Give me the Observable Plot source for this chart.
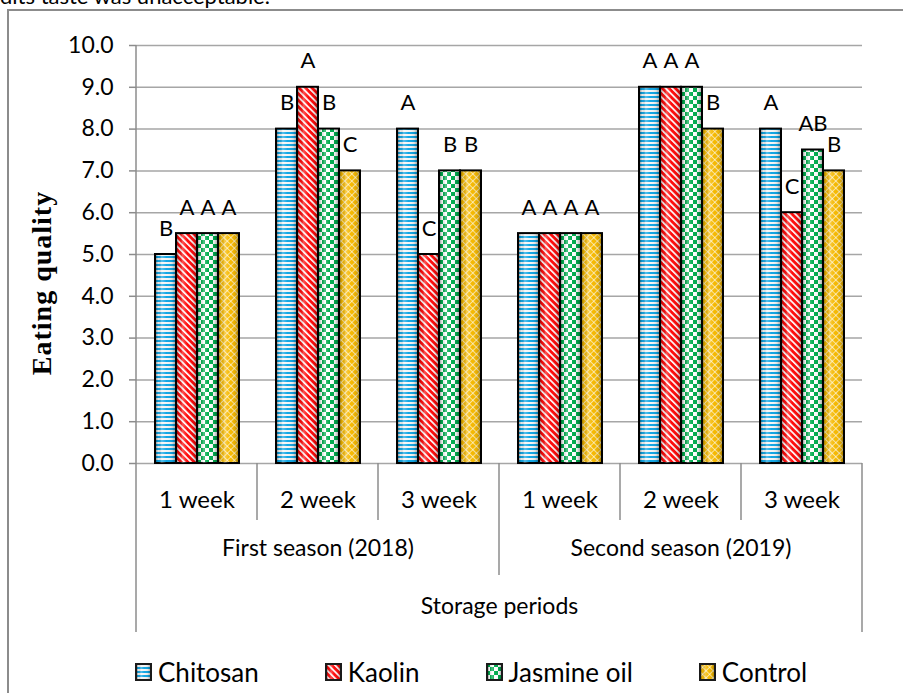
<!DOCTYPE html>
<html>
<head>
<meta charset="utf-8">
<script src="https://cdn.jsdelivr.net/npm/d3@7"></script>
<script src="https://cdn.jsdelivr.net/npm/@observablehq/plot@0.6"></script>
<style>
  html, body { margin: 0; padding: 0; background: #fff; }
  body { width: 903px; height: 693px; overflow: hidden; position: relative; font-family: Lato, sans-serif; color: #000; }
  #cut { position: absolute; left: 0; top: -15px; font-size: 22px; line-height: 22px; white-space: nowrap; }
  #chart { position: absolute; left: 0; top: 0; }
  #frame { position: absolute; left: 7px; top: 9px; width: 920px; height: 720px; border-left: 2px solid #8c8c8c; border-top: 2px solid #8c8c8c; pointer-events: none; }
  #ytitle { position: absolute; left: 42px; top: 283px; transform: translate(-50%, -50%) rotate(-90deg); font-family: "Liberation Serif", serif; font-weight: bold; font-size: 28px; letter-spacing: 1px; white-space: nowrap; }
  #legend { position: absolute; left: 135px; top: 657px; display: flex; align-items: center; gap: 66px; font-size: 26px; line-height: 30px; }
  .item { display: flex; align-items: center; gap: 6px; }
  .item svg { display: block; }
</style>
</head>
<body>
<svg width="0" height="0" style="position:absolute">
  <defs>
    <pattern id="p-chi" width="4" height="4" patternUnits="userSpaceOnUse">
      <rect width="4" height="4" fill="#f4f4f4"/>
      <rect width="4" height="2" fill="#12a6e4"/>
    </pattern>
    <pattern id="p-kao" width="4.6" height="4.6" patternUnits="userSpaceOnUse" patternTransform="rotate(-45)">
      <rect width="4.6" height="4.6" fill="#ff0a0a"/>
      <rect width="1.7" height="4.6" fill="#ffffff"/>
    </pattern>
    <pattern id="p-jas" width="8" height="8" patternUnits="userSpaceOnUse">
      <rect width="8" height="8" fill="#ffffff"/>
      <rect width="4" height="4" fill="#00ad4e"/>
      <rect x="4" y="4" width="4" height="4" fill="#00ad4e"/>
    </pattern>
    <pattern id="p-con" width="5" height="5" patternUnits="userSpaceOnUse" patternTransform="rotate(45)">
      <rect width="5" height="5" fill="#f6b900"/>
      <path d="M0 0.5H5M0.5 0V5" stroke="#ffffff" stroke-opacity="0.6" stroke-width="1"/>
    </pattern>
    <linearGradient id="shade" x1="0" x2="1" y1="0" y2="0">
      <stop offset="0" stop-color="#000" stop-opacity="0.35"/>
      <stop offset="0.12" stop-color="#000" stop-opacity="0.05"/>
      <stop offset="0.3" stop-color="#fff" stop-opacity="0.3"/>
      <stop offset="0.55" stop-color="#fff" stop-opacity="0"/>
      <stop offset="0.85" stop-color="#000" stop-opacity="0.08"/>
      <stop offset="1" stop-color="#000" stop-opacity="0.3"/>
    </linearGradient>
  </defs>
</svg>
<div id="cut">dits taste was unacceptable.</div>
<div id="chart"></div>
<div id="ytitle">Eating quality</div>
<div id="legend"></div>
<div id="frame"></div>
<script>
// ---- data ----
const periods = ["1 week", "2 week", "3 week"];
const seasons = ["First season (2018)", "Second season (2019)"];
const treatments = ["Chitosan", "Kaolin", "Jasmine oil", "Control"];
const season1Values = [[5.0, 5.5, 5.5, 5.5], [8.0, 9.0, 8.0, 7.0], [8.0, 5.0, 7.0, 7.0]];
const season2Values = [[5.5, 5.5, 5.5, 5.5], [9.0, 9.0, 9.0, 8.0], [8.0, 6.0, 7.5, 7.0]];
const season1Letters = [["B", "A", "A", "A"], ["B", "A", "B", "C"], ["A", "C", "B", "B"]];
const season2Letters = [["A", "A", "A", "A"], ["A", "A", "A", "B"], ["A", "C", "AB", "B"]];
const yTicks = [0, 1, 2, 3, 4, 5, 6, 7, 8, 9, 10];
const xTitle = "Storage periods";
const patterns = ["url(#p-chi)", "url(#p-kao)", "url(#p-jas)", "url(#p-con)"];

// ---- table ----
const keys = [];
const rows = [];
[season1Values, season2Values].forEach((vals, s) => {
  const letters = s === 0 ? season1Letters : season2Letters;
  periods.forEach((p, pi) => {
    const key = seasons[s] + "|" + p;
    keys.push(key);
    treatments.forEach((t, ti) => {
      rows.push({key, treatment: t, value: vals[pi][ti], letter: letters[pi][ti]});
    });
  });
});
const seasonRows = seasons.map(s => ({key: s + "|" + periods[1], label: s}));
const titleRows = [{key: keys[2], label: xTitle}];

const plot = Plot.plot({
  width: 903,
  height: 640,
  marginLeft: 135,
  marginRight: 41,
  marginTop: 45,
  marginBottom: 177,
  style: {fontFamily: "Lato, sans-serif", fontSize: "23px", color: "#000", background: "transparent"},
  fx: {domain: keys, padding: 0, axis: null, label: null},
  x: {domain: treatments, paddingInner: 0, paddingOuter: 0.755, axis: null},
  y: {domain: [0, 10], axis: null},
  color: {domain: treatments, range: patterns},
  marks: [
    Plot.gridY(yTicks, {stroke: "#a6a6a6", strokeOpacity: 1, strokeWidth: 1.5}),
    Plot.axisY(yTicks, {tickFormat: d => d.toFixed(1), tickSize: 7, tickPadding: 16, fontSize: 23, stroke: "#8c8c8c", strokeWidth: 1.5, label: null}),
    Plot.axisFx({anchor: "bottom", tickSize: 0, tickPadding: 27, tickFormat: k => k.split("|")[1], fontSize: 24, label: null}),
    Plot.barY(rows, {fx: "key", x: "treatment", y: "value", fill: "treatment", stroke: "#000", strokeWidth: 2}),
    Plot.barY(rows, {fx: "key", x: "treatment", y: "value", fill: "url(#shade)", insetLeft: 1, insetRight: 1, insetTop: 1}),
    Plot.text(rows, {fx: "key", x: "treatment", y: "value", text: "letter", dy: -26, fontSize: 22}),
    Plot.text(seasonRows, {fx: "key", text: "label", frameAnchor: "bottom", dy: 92, fontSize: 23}),
    Plot.text(titleRows, {fx: "key", text: "label", frameAnchor: "bottom-right", textAnchor: "middle", dy: 150, fontSize: 23})
  ]
});
document.getElementById("chart").appendChild(plot);

// ---- category separator lines from the library's scales ----
const fx = plot.scale("fx");
const y = plot.scale("y");
const bw = fx.bandwidth;
const y0 = y.apply(0);
const segs = [];
segs.push([fx.apply(keys[0]), y.apply(10), y0 + 169]);
segs.push([fx.apply(keys[5]) + bw, y0, y0 + 169]);
segs.push([fx.apply(keys[3]), y0, y0 + 112]);
[1, 2, 4, 5].forEach(i => segs.push([fx.apply(keys[i]), y0, y0 + 57]));
d3.select(plot).append("g")
  .attr("stroke", "#8c8c8c").attr("stroke-width", 1.5)
  .selectAll("line").data(segs).join("line")
  .attr("x1", d => d[0]).attr("x2", d => d[0])
  .attr("y1", d => d[1]).attr("y2", d => d[2]);

// ---- legend ----
const legend = d3.select("#legend");
treatments.forEach((t, i) => {
  const item = legend.append("div").attr("class", "item");
  const sw = item.append("svg").attr("width", 17).attr("height", 18);
  sw.append("rect").attr("x", 1).attr("y", 1).attr("width", 15).attr("height", 16)
    .attr("fill", patterns[i]).attr("stroke", "#1a1a1a").attr("stroke-width", 2);
  sw.append("rect").attr("x", 2).attr("y", 2).attr("width", 13).attr("height", 14).attr("fill", "url(#shade)");
  item.append("span").text(t);
});
</script>
</body>
</html>
